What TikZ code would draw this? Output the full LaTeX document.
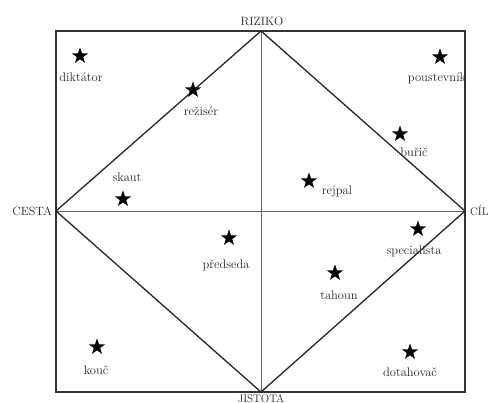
\documentclass[tikz,border=0pt]{standalone}
\usetikzlibrary{shapes.geometric}
\begin{document}
\begin{tikzpicture}[x=1pt,y=-1pt,
  lbl/.style={font=\fontsize{12.5}{14}\selectfont, text=black!85, inner sep=0pt},
  axislbl/.style={font=\fontsize{12}{14}\selectfont, text=black!85, inner sep=0pt},
  starmark/.style={star, star points=5, star point ratio=2.5, fill=black, draw=none, minimum size=17pt, inner sep=0pt},
  frameline/.style={draw=black!80, line width=1.3pt},
  diamline/.style={draw=black!85, line width=1.3pt},
  midline/.style={draw=black!60, line width=0.5pt}]
\path[use as bounding box] (0,0) rectangle (492,403);
\clip (0,0) rectangle (492,403);
\fill[white] (0,0) rectangle (492,403);
% corners and vertices
\coordinate (tl) at (56,31);
\coordinate (br) at (465,392);
\coordinate (top) at (261,31);
\coordinate (left) at (56,211);
\coordinate (right) at (465,211);
\coordinate (bottom) at (261,392);
% mid lines
\draw[midline] (top) -- (bottom);
\draw[midline] (left) -- (right);
% frame
\draw[frameline] (tl) rectangle (br);
% diamond
\draw[diamline, line join=miter] (top) -- (right) -- (bottom) -- (left) -- cycle;
% axis labels
\node[axislbl, anchor=south] (riziko) at (262,26) {RIZIKO};
\node[axislbl, anchor=east] (cesta) at (52,211) {CESTA};
\node[axislbl, anchor=west, font=\fontsize{11}{13}\selectfont] (cil) at (470,211) {CÍL};
\node[axislbl, anchor=base, font=\fontsize{11}{13}\selectfont] (jistota) at (261,402) {JISTOTA};
% stars and labels
\node[starmark] (s1) at (80,56) {};
\node[lbl] (l1) at (81,77) {diktátor};
\node[starmark] (s2) at (193,90) {};
\node[lbl] (l2) at (201,111) {režisér};
\node[starmark] (s3) at (123,199) {};
\node[lbl] (l3) at (127,177) {skaut};
\node[starmark] (s4) at (440,57) {};
\node[lbl] (l4) at (437,78) {poustevník};
\node[starmark] (s5) at (400,134) {};
\node[lbl] (l5) at (414,152) {buřič};
\node[starmark] (s6) at (309,181) {};
\node[lbl] (l6) at (337,191) {rejpal};
\node[starmark] (s7) at (229,238) {};
\node[lbl] (l7) at (226,265) {předseda};
\node[starmark] (s8) at (418,229) {};
\node[lbl] (l8) at (414,251) {specialista};
\node[starmark] (s9) at (335,273) {};
\node[lbl] (l9) at (339,295) {tahoun};
\node[starmark] (s10) at (97,347) {};
\node[lbl] (l10) at (96,370) {kouč};
\node[starmark] (s11) at (410,352) {};
\node[lbl] (l11) at (410,372) {dotahovač};
\end{tikzpicture}
\end{document}
